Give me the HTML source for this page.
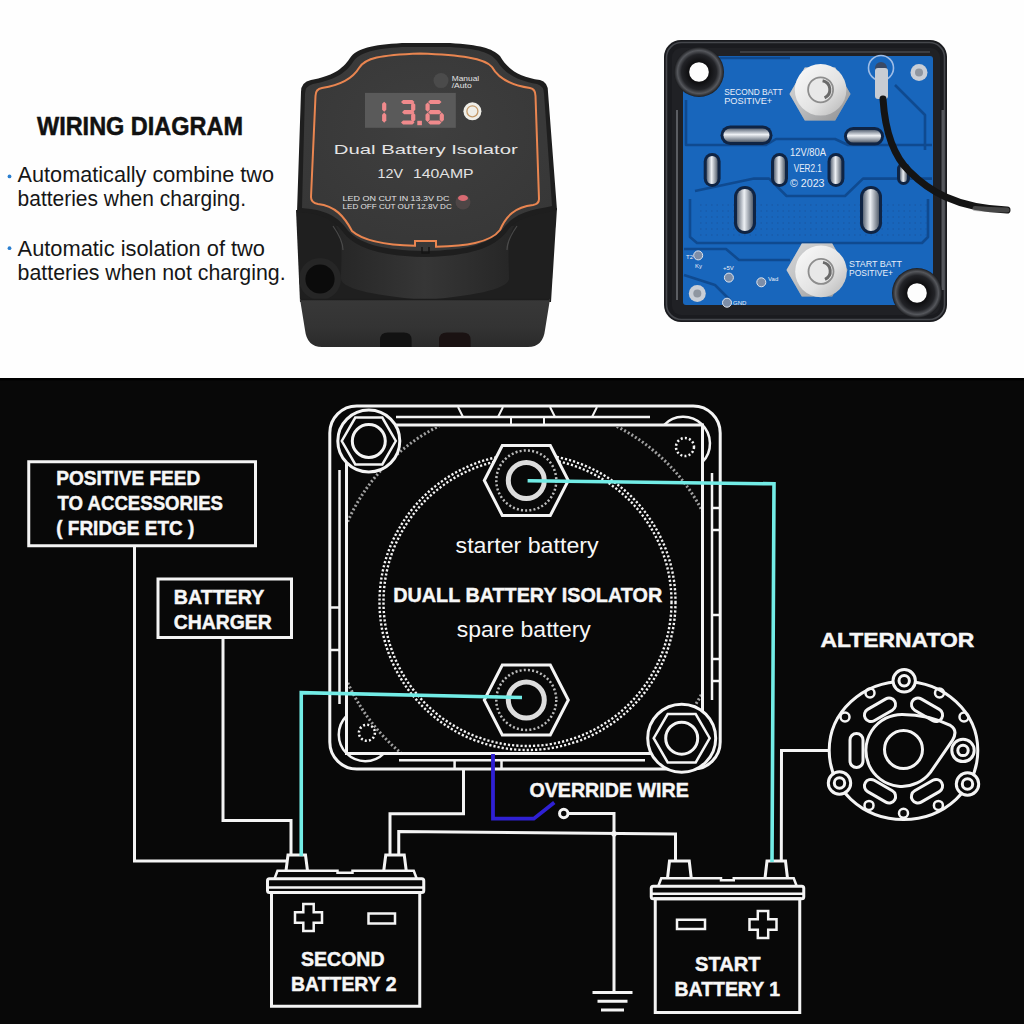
<!DOCTYPE html>
<html><head><meta charset="utf-8">
<style>
html,body{margin:0;padding:0;background:#fff;overflow:hidden;}
svg{display:block;}
text{font-family:"Liberation Sans",sans-serif;}
</style></head>
<body>
<svg width="1024" height="1024" viewBox="0 0 1024 1024">
<defs>
</defs>
<rect x="0" y="0" width="1024" height="378" fill="#fefefe"/>
<rect x="0" y="378" width="1024" height="646" fill="#080808"/><rect x="0" y="378" width="1024" height="2.5" fill="#000"/>

<!-- TOP LEFT TEXT -->
<g id="lefttext">
<text x="37" y="134.5" font-size="25" font-weight="bold" fill="#111" stroke="#111" stroke-width="0.5" textLength="206" lengthAdjust="spacingAndGlyphs">WIRING DIAGRAM</text>
<circle cx="9.5" cy="176.4" r="1.9" fill="#2b7fd0"/>
<circle cx="9.5" cy="248.2" r="1.9" fill="#2b7fd0"/>
<text x="17.6" y="182" font-size="22" fill="#161616" textLength="256.4" lengthAdjust="spacingAndGlyphs">Automatically combine two</text>
<text x="17.6" y="206.4" font-size="22" fill="#161616" textLength="228.4" lengthAdjust="spacingAndGlyphs">batteries when charging.</text>
<text x="17.6" y="255.5" font-size="22" fill="#161616" textLength="247.4" lengthAdjust="spacingAndGlyphs">Automatic isolation of two</text>
<text x="17.6" y="280" font-size="22" fill="#161616" textLength="268" lengthAdjust="spacingAndGlyphs">batteries when not charging.</text>
</g>

<!-- DEVICE -->
<g id="device">
<defs>
<linearGradient id="gBot" x1="0" y1="0" x2="0" y2="1">
<stop offset="0" stop-color="#383838"/><stop offset="0.6" stop-color="#333"/><stop offset="1" stop-color="#2a2a2a"/>
</linearGradient>
<linearGradient id="gMid" x1="0" y1="0" x2="1" y2="0">
<stop offset="0" stop-color="#262626"/><stop offset="0.25" stop-color="#2e2e2e"/><stop offset="0.5" stop-color="#363636"/><stop offset="0.75" stop-color="#2e2e2e"/><stop offset="1" stop-color="#262626"/>
</linearGradient>
<radialGradient id="gTop" cx="0.5" cy="0.4" r="0.7">
<stop offset="0" stop-color="#3f3f3f"/><stop offset="1" stop-color="#363636"/>
</radialGradient>
</defs>
<!-- middle section -->
<path d="M296,210 L557,208 L551,302 L300,302 Z" fill="#1f1f1f"/>
<path d="M336,226 C344,240 341,262 341,279 C343,290 380,296 425,300 C470,296 507,290 509,279 C509,262 506,240 514,226 Z" fill="url(#gMid)"/>
<path d="M333,226 C340,236 343,244 343,250" fill="none" stroke="#5a5a5a" stroke-width="1.2" opacity="0.7"/>
<path d="M517,226 C510,236 507,244 507,250" fill="none" stroke="#5a5a5a" stroke-width="1.2" opacity="0.7"/>
<circle cx="320" cy="279" r="21" fill="#262626"/>
<circle cx="320" cy="279" r="14.6" fill="#0b0b0b"/>
<!-- bottom block -->
<path d="M300,299 L550,299 L545,330 Q543,347 528,347 L322,347 Q307,347 305,330 Z" fill="url(#gBot)"/>
<path d="M301,299.5 L549,299.5" stroke="#1c1c1c" stroke-width="1.5"/>
<path d="M380,347 V340 Q380,332.6 388,332.6 H403.6 Q411.6,332.6 411.6,340 V347 Z" fill="#121212"/>
<path d="M439,347 V340 Q439,332.6 447,332.6 H462.6 Q470.6,332.6 470.6,340 V347 Z" fill="#1a1212"/>
<!-- top face outer -->
<path d="M297,212 L301,92 Q301,82 311,80 C332,76 342,70 350,58 C357,48 372,45 402,43 L450,43 C480,45 492,48 500,56 C508,70 520,77 540,80 Q548,82 548,92 L557,210 C545,214 520,214 508,230 C495,248 470,256 425,257 C380,256 355,248 343,232 C330,214 310,213 297,212 Z" fill="#1e1e1e"/>
<path d="M302,208 L305,94 Q305,86 313,84 C334,80 345,74 353,62 C360,52 374,49 402,47 L450,47 C478,49 490,52 497,61 C505,74 518,81 537,84 Q544,86 544,94 L552,206 C540,209 518,210 505,226 C492,244 468,250 425,251 C382,250 358,244 346,228 C333,210 312,209 302,208 Z" fill="url(#gTop)"/>
<!-- orange line -->
<path d="M315.5,96 Q315.5,89 322,88 C341,85 353,78 359,68 C365,58 380,55 420,53.5 C460,55 485,58 492,67 C498,78 510,85 530,88 Q535.5,89 535.5,96 L539,199 Q539,204 533,205 C515,207 506,216 500,230 C490,243 465,246 436,246.8 L436,241 L415,241 L415,245.8 C385,245 362,240 352,231 C344,216 335,206 318,204 Q311,203 311,197 Z" fill="none" stroke="#e98550" stroke-width="2"/>
<path d="M422,247 V253 H429 V247" fill="none" stroke="#151515" stroke-width="1.5"/>
<!-- LCD -->
<rect x="365" y="92.9" width="90.8" height="34.9" fill="#5a5a5a"/>
<g fill="#f08a8c">
<polygon points="384.2,101.7 386.3,103.8 386.3,109.7 384.2,111.8 382.09999999999997,109.7 382.09999999999997,103.8"/>
<polygon points="384.2,112.6 386.3,114.69999999999999 386.3,120.60000000000001 384.2,122.7 382.09999999999997,120.60000000000001 382.09999999999997,114.69999999999999"/>
<polygon points="401,102 403.1,99.9 412.4,99.9 414.5,102 412.4,104.1 403.1,104.1"/>
<polygon points="402,112.2 404.1,110.10000000000001 412.4,110.10000000000001 414.5,112.2 412.4,114.3 404.1,114.3"/>
<polygon points="401,122.5 403.1,120.4 412.4,120.4 414.5,122.5 412.4,124.6 403.1,124.6"/>
<polygon points="413.2,102.5 415.3,104.6 415.3,109.7 413.2,111.8 411.09999999999997,109.7 411.09999999999997,104.6"/>
<polygon points="413.2,112.6 415.3,114.69999999999999 415.3,119.9 413.2,122 411.09999999999997,119.9 411.09999999999997,114.69999999999999"/>
<rect x="417.3" y="120.8" width="4.6" height="4.4"/>
<polygon points="428,102 430.1,99.9 439.4,99.9 441.5,102 439.4,104.1 430.1,104.1"/>
<polygon points="428,112.2 430.1,110.10000000000001 439.4,110.10000000000001 441.5,112.2 439.4,114.3 430.1,114.3"/>
<polygon points="428,122.5 430.1,120.4 439.4,120.4 441.5,122.5 439.4,124.6 430.1,124.6"/>
<polygon points="427.6,102.5 429.70000000000005,104.6 429.70000000000005,109.7 427.6,111.8 425.5,109.7 425.5,104.6"/>
<polygon points="427.6,112.6 429.70000000000005,114.69999999999999 429.70000000000005,119.9 427.6,122 425.5,119.9 425.5,114.69999999999999"/>
<polygon points="441.8,112.6 443.90000000000003,114.69999999999999 443.90000000000003,119.9 441.8,122 439.7,119.9 439.7,114.69999999999999"/>
</g>
<circle cx="472.4" cy="111.3" r="9" fill="#efeee8"/>
<circle cx="472.4" cy="111.3" r="5.5" fill="none" stroke="#c49a6a" stroke-width="1.3"/>
<circle cx="441" cy="80.6" r="7.5" fill="#4b4b4b"/>
<g fill="#e4e4e4">
<text x="451.7" y="81.3" font-size="7" textLength="27.5" lengthAdjust="spacingAndGlyphs">Manual</text>
<text x="451.7" y="88.2" font-size="7" textLength="20" lengthAdjust="spacingAndGlyphs">/Auto</text>
<text x="333.8" y="154.4" font-size="13" textLength="184" lengthAdjust="spacingAndGlyphs">Dual Battery Isolator</text>
<text x="377.5" y="178" font-size="12.4" textLength="25.5" lengthAdjust="spacingAndGlyphs">12V</text><text x="413" y="178" font-size="12.4" textLength="60.6" lengthAdjust="spacingAndGlyphs">140AMP</text>
<text x="342.5" y="201.3" font-size="6.8" textLength="107" lengthAdjust="spacingAndGlyphs">LED ON CUT IN 13.3V DC</text>
<text x="342.5" y="209" font-size="6.8" textLength="109.3" lengthAdjust="spacingAndGlyphs">LED OFF CUT OUT 12.8V DC</text>
</g>
<circle cx="463" cy="202" r="7.5" fill="#4e4646"/>
<ellipse cx="463" cy="198" rx="5" ry="3" fill="#d86a72"/>
</g>

<!-- PCB -->
<g id="pcb">
<defs>
<linearGradient id="gSil" x1="0" y1="0" x2="1" y2="1">
<stop offset="0" stop-color="#f4f4f4"/><stop offset="0.45" stop-color="#cfcfcf"/><stop offset="1" stop-color="#7c7c7c"/>
</linearGradient>
<radialGradient id="gBoss" cx="0.5" cy="0.5" r="0.5">
<stop offset="0.38" stop-color="#0c0c0e"/><stop offset="0.7" stop-color="#222327"/><stop offset="0.86" stop-color="#55575c"/><stop offset="1" stop-color="#1a1b1e"/>
</radialGradient>
<linearGradient id="gSilTop" x1="0" y1="0" x2="1" y2="1">
<stop offset="0" stop-color="#fbfbfb"/><stop offset="0.6" stop-color="#e2e2e2"/><stop offset="1" stop-color="#b4b4b4"/>
</linearGradient>
<linearGradient id="gSlotH" x1="0" y1="0" x2="0" y2="1">
<stop offset="0" stop-color="#5d6878"/><stop offset="0.45" stop-color="#eef1f5"/><stop offset="1" stop-color="#56606e"/>
</linearGradient>
<linearGradient id="gSlotV" x1="0" y1="0" x2="1" y2="0">
<stop offset="0" stop-color="#5d6878"/><stop offset="0.45" stop-color="#eef1f5"/><stop offset="1" stop-color="#56606e"/>
</linearGradient>
</defs>
<rect x="664" y="40" width="283" height="282" rx="17" fill="#1a1b1f"/>
<rect x="666.5" y="42.5" width="278" height="277" rx="15" fill="none" stroke="#45474c" stroke-width="1.6"/>
<rect x="672" y="48" width="268" height="267" rx="9" fill="#202125"/>
<path d="M677,110 V300" stroke="#5b5d62" stroke-width="2" fill="none"/>
<path d="M740,52 H930" stroke="#3c3e43" stroke-width="2" fill="none"/>
<path d="M943,110 V290" stroke="#55575c" stroke-width="3" fill="none"/>
<rect x="683" y="56" width="250" height="249" rx="3" fill="#1866bc"/>
<g fill="none" stroke="#0f4a90" stroke-width="2.6" stroke-linejoin="round">
<path d="M686,100 V145 H766 L776,139 H835 L848,145 H932"/>
<path d="M695,191 L754,178.6 H769 L786.6,196 H845 L863,178.6 H932"/>
<path d="M690,199 V237 L697,243 H922 L928,237 V199"/>
<path d="M684,249 H726 L739,260 H790"/>
<path d="M684,275 L715,285 L730,300"/>
<path d="M720,58 H790"/>
<path d="M895,85 L925,115 V150"/>
</g>
<g fill="none" stroke="#1856a0" stroke-width="1.2" stroke-dasharray="1.5 4">
<path d="M700,205 H930"/>
<path d="M700,211 H930"/>
<path d="M700,217 H930"/>
<path d="M700,223 H930"/>
<path d="M700,229 H930"/>
<path d="M700,235 H930"/>
</g>
<circle cx="699" cy="72" r="25" fill="url(#gBoss)"/>
<circle cx="699" cy="72" r="9.8" fill="#fdfdfd"/>
<circle cx="917" cy="293" r="25" fill="url(#gBoss)"/>
<circle cx="917" cy="293" r="9.8" fill="#fdfdfd"/>
<circle cx="919" cy="72.6" r="8.5" fill="#c9ced6"/>
<circle cx="919" cy="72.6" r="4" fill="#8f96a0"/>
<circle cx="697.3" cy="293.4" r="8.5" fill="#c9ced6"/>
<circle cx="697.3" cy="293.4" r="4" fill="#8f96a0"/>
<rect x="720.5" y="125.5" width="52.0" height="19.5" rx="9.8" fill="#0f2444"/>
<rect x="723.5" y="128.5" width="46.0" height="13.5" rx="6.8" fill="url(#gSlotH)"/>
<rect x="844.0" y="127.0" width="40.0" height="18.6" rx="9.3" fill="#0f2444"/>
<rect x="847.0" y="130.0" width="34.0" height="12.6" rx="6.3" fill="url(#gSlotH)"/>
<rect x="703.7" y="153.0" width="16.9" height="34.0" rx="8.4" fill="#0f2444"/>
<rect x="706.7" y="156.0" width="10.9" height="28.0" rx="5.4" fill="url(#gSlotV)"/>
<rect x="771.0" y="153.0" width="17.0" height="34.0" rx="8.5" fill="#0f2444"/>
<rect x="774.0" y="156.0" width="11.0" height="28.0" rx="5.5" fill="url(#gSlotV)"/>
<rect x="827.5" y="153.0" width="16.9" height="34.0" rx="8.4" fill="#0f2444"/>
<rect x="830.5" y="156.0" width="10.9" height="28.0" rx="5.4" fill="url(#gSlotV)"/>
<rect x="897.0" y="162.5" width="13.0" height="22.5" rx="6.5" fill="#0f2444"/>
<rect x="900.0" y="165.5" width="7.0" height="16.5" rx="3.5" fill="url(#gSlotV)"/>
<rect x="734.0" y="186.0" width="22.0" height="48.0" rx="11.0" fill="#0f2444"/>
<rect x="737.0" y="189.0" width="16.0" height="42.0" rx="8.0" fill="url(#gSlotV)"/>
<rect x="860.0" y="186.0" width="22.0" height="48.0" rx="11.0" fill="#0f2444"/>
<rect x="863.0" y="189.0" width="16.0" height="42.0" rx="8.0" fill="url(#gSlotV)"/>
<polygon points="850.5,94.0 835.2,120.4 804.8,120.4 789.5,94.0 804.8,67.6 835.2,67.6" fill="#a9abaf"/>
<polygon points="850.5,94.0 835.2,120.4 804.8,120.4 789.5,94.0 804.8,67.6 835.2,67.6" fill="url(#gSil)" opacity="0.6"/>
<circle cx="820.6" cy="89.8" r="25.8" fill="url(#gSilTop)"/>
<circle cx="820.6" cy="89.8" r="12.5" fill="#e8e8e8" stroke="#8d8d8d" stroke-width="1.8"/>
<path d="M822.6,80.8 A9,9 0 0 1 824.6,97.8" fill="none" stroke="#6a6a6a" stroke-width="3"/>
<polygon points="847.5,270.0 832.2,296.4 801.8,296.4 786.5,270.0 801.8,243.6 832.2,243.6" fill="#a9abaf"/>
<polygon points="847.5,270.0 832.2,296.4 801.8,296.4 786.5,270.0 801.8,243.6 832.2,243.6" fill="url(#gSil)" opacity="0.6"/>
<circle cx="821" cy="271.4" r="25.8" fill="url(#gSilTop)"/>
<circle cx="821" cy="271.4" r="12.5" fill="#e8e8e8" stroke="#8d8d8d" stroke-width="1.8"/>
<path d="M823,262.4 A9,9 0 0 1 825,279.4" fill="none" stroke="#6a6a6a" stroke-width="3"/>
<circle cx="881" cy="68" r="12.5" fill="none" stroke="#9fbde6" stroke-width="1.6"/>
<circle cx="881" cy="68" r="6" fill="#3a4a66"/>
<rect x="875" y="68" width="13" height="31" rx="3" fill="#c8ccd3"/>
<path d="M883,99 C885,130 893,156 910,172 C928,190 955,208 1007,210" fill="none" stroke="#141414" stroke-width="7" stroke-linecap="round"/>
<path d="M975,208.5 C990,210 1000,210 1007,210" fill="none" stroke="#777" stroke-width="5" stroke-linecap="round" opacity="0.5"/>
<g fill="#e8eef8" font-size="9.6">
<text x="724.2" y="95" textLength="58.5" lengthAdjust="spacingAndGlyphs">SECOND BATT</text>
<text x="724.2" y="104.2" textLength="48" lengthAdjust="spacingAndGlyphs">POSITIVE+</text>
<text x="790" y="156" font-size="10" textLength="36" lengthAdjust="spacingAndGlyphs">12V/80A</text>
<text x="793.7" y="172" font-size="10" textLength="28.2" lengthAdjust="spacingAndGlyphs">VER2.1</text>
<text x="790" y="187" font-size="10" textLength="34.5" lengthAdjust="spacingAndGlyphs">© 2023</text>
<text x="849" y="266.6" textLength="53" lengthAdjust="spacingAndGlyphs">START BATT</text>
<text x="849" y="276" textLength="44" lengthAdjust="spacingAndGlyphs">POSITIVE+</text>
<text x="686" y="259" font-size="6">T2</text>
<text x="695" y="268" font-size="6">Ky</text>
<text x="723" y="270" font-size="6">+5V</text>
<text x="768" y="281" font-size="6">Vad</text>
<text x="733" y="305" font-size="6">GND</text>
</g>
<circle cx="698.2" cy="255.4" r="4.5" fill="#7d8ea8" stroke="#dfe6f0" stroke-width="1"/>
<circle cx="728.9" cy="277.6" r="4.5" fill="#7d8ea8" stroke="#dfe6f0" stroke-width="1"/>
<circle cx="761.3" cy="282.3" r="4.5" fill="#7d8ea8" stroke="#dfe6f0" stroke-width="1"/>
<circle cx="727" cy="302.7" r="4.5" fill="#7d8ea8" stroke="#dfe6f0" stroke-width="1"/>
</g>

<!-- DIAGRAM -->
<g id="diagram" fill="none" stroke="#f4f4f4" stroke-width="3" stroke-linejoin="miter">
<rect x="28.75" y="461.75" width="226.75" height="84" />
<rect x="158" y="579" width="133.5" height="58.5" />
<polyline points="134.5,545.75 134.5,861 286,861" />
<polyline points="223,637.5 223,820.5 291,820.5 291,856" />
<polyline points="390,856 390,813.75 463.5,813.75 463.5,769" />
<polyline points="398.75,856 398.75,831.5 675.5,834 675.5,862" />
<polyline points="568,813.5 614,813.5 614,992.5" />
<circle cx="563.75" cy="813.5" r="4.2" />
<circle cx="614" cy="833.7" r="2.8" fill="#f2f2f2" stroke="none"/>
<line x1="592.5" y1="992.5" x2="632.5" y2="992.5" />
<line x1="597.5" y1="1001.25" x2="627.5" y2="1001.25" />
<line x1="601" y1="1010" x2="624" y2="1010" />
<polyline points="829,750.4 781.5,750.4 781.3,862" />
<rect x="329.8" y="406" width="390.4" height="363" rx="27" />
<clipPath id="cpFrame"><rect x="348" y="427" width="353" height="325"/></clipPath>
<circle cx="527.5" cy="602" r="197" stroke-width="3" stroke-dasharray="2 2.2" stroke="#a0a0a0" clip-path="url(#cpFrame)"/>
<path d="M346.5,425 H702.5 V753.4 H346.5 Z" />
<path d="M339.5,470 V704 M712,473 V700 M712,508 H720 M712,530 H720 M712,615 H720 M712,659 H720 M712,681 H720 M331,607.5 H339.5 M331,650 H339.5 M396,417 H650 M399,760.3 H645 M454.6,760.3 V769 M501.5,760.3 V769" stroke-width="2.5"/>
<path d="M458,407 L463,417 M498,417 L503,407 M550,407 L555,417 M592,417 L597,407 M511,417 V426 M544,417 V426" stroke-width="2"/>
<path d="M664,425 A26,26 0 0 1 702.5,462" stroke-width="2.5"/>
<path d="M346.5,716 A22,22 0 0 0 384,753.4" stroke-width="2.5"/>
<circle cx="368.8" cy="441" r="31" fill="#080808"/>
<polygon points="395.8,441.0 382.3,464.4 355.3,464.4 341.8,441.0 355.3,417.6 382.3,417.6" stroke-width="2.5"/>
<circle cx="368.8" cy="441" r="16.5" />
<circle cx="681.7" cy="738.2" r="34" fill="#080808"/>
<polygon points="709.7,738.2 695.7,762.4 667.7,762.4 653.7,738.2 667.7,714.0 695.7,714.0" stroke-width="2.5"/>
<circle cx="681.7" cy="738.2" r="16" />
<circle cx="366.9" cy="732.8" r="8" stroke-width="2.5" stroke-dasharray="2 2.2"/>
<circle cx="685" cy="447" r="9" stroke-width="2.5" stroke-dasharray="2 2.2"/>
<circle cx="527.5" cy="602" r="144" stroke-width="2.4" stroke-dasharray="2.2 2"/>
<circle cx="527.5" cy="602" r="148" stroke-width="2.4" stroke-dasharray="2.2 2" />
<polygon points="484.3,480.5 502.3,445.5 550.3,445.5 568.3,480.5 550.3,515.5 502.3,515.5" fill="#080808" />
<circle cx="526.3" cy="480.5" r="30" stroke-width="2.5" stroke-dasharray="2 2.2" stroke="#bbb"/>
<circle cx="526.3" cy="480.5" r="18" stroke-width="5" stroke="#ddd"/>
<polygon points="484.3,700.0 502.3,665.0 550.3,665.0 568.3,700.0 550.3,735.0 502.3,735.0" fill="#080808" />
<circle cx="526.3" cy="700" r="30" stroke-width="2.5" stroke-dasharray="2 2.2" stroke="#bbb"/>
<circle cx="526.3" cy="700" r="18" stroke-width="5" stroke="#ddd"/>
<path d="M286,870.75 L288,855 H305.5 L307.5,870.75" />
<path d="M383.75,870.75 L385.75,855 H404.25 L406.25,870.75" />
<path d="M274.5,878.75 L277.5,870.75 H337.5 V872.75 H352.5 V870.75 H413.75 L416.75,878.75" stroke-width="2.5"/>
<rect x="267.5" y="878.75" width="156.25" height="13.75" rx="2"/>
<line x1="267.5" y1="887.5" x2="423.75" y2="887.5" stroke-width="2.5"/>
<rect x="271.5" y="892.5" width="148.25" height="113.75" />
<path d="M303.3,904.0 H313.7 V912.3 H322.0 V922.7 H313.7 V931.0 H303.3 V922.7 H295.0 V912.3 H303.3 Z" stroke-width="2.5"/>
<rect x="368.5" y="913.5" width="26.5" height="10" stroke-width="2.5"/>
<path d="M667.5,878.25 L669.5,861 H689.25 L691.25,878.25" />
<path d="M765,878.25 L767,861 H785.5 L787.5,878.25" />
<path d="M658.25,886.25 L661.25,878.25 H721 V880.25 H733.75 V878.25 H793.75 L796.75,886.25" stroke-width="2.5"/>
<rect x="651.25" y="886.25" width="152.5" height="12.5" rx="2"/>
<line x1="651.25" y1="893.75" x2="803.75" y2="893.75" stroke-width="2.5"/>
<rect x="655.25" y="898.75" width="144.5" height="113.75" />
<path d="M757.8,911.0 H768.2 V919.3 H776.5 V929.7 H768.2 V938.0 H757.8 V929.7 H749.5 V919.3 H757.8 Z" stroke-width="2.5"/>
<rect x="677" y="919.75" width="28" height="9.25" stroke-width="2.5"/>
<polyline points="301.25,856 301.25,692.7 522,697.5" stroke="#72ece6" stroke-width="3.6"/>
<polyline points="527.6,480.75 774,483.8 772,862" stroke="#72ece6" stroke-width="3.6"/>
<polyline points="493,754 493,818.7 533.8,818.7 554.3,802.6" stroke="#2f20d4" stroke-width="3.8"/>
<ellipse cx="903.5" cy="750.5" rx="74.3" ry="69" />
<circle cx="870" cy="693" r="4.5" stroke-width="2.5"/>
<circle cx="939.5" cy="693" r="4.5" stroke-width="2.5"/>
<circle cx="845" cy="717" r="4.5" stroke-width="2.5"/>
<circle cx="964" cy="717" r="4.5" stroke-width="2.5"/>
<circle cx="869" cy="805.4" r="4.5" stroke-width="2.5"/>
<circle cx="938.4" cy="805.4" r="4.5" stroke-width="2.5"/>
<circle cx="903.5" cy="813.3" r="4.5" stroke-width="2.5"/>
<circle cx="904.2" cy="680.8" r="11.2" fill="#080808"/>
<circle cx="904.2" cy="680.8" r="5.2" />
<circle cx="839.5" cy="783" r="11.2" fill="#080808"/>
<circle cx="839.5" cy="783" r="5.2" />
<circle cx="967.5" cy="784" r="11.2" fill="#080808"/>
<circle cx="967.5" cy="784" r="5.2" />
<circle cx="963" cy="750.4" r="11.2" fill="#080808"/>
<circle cx="963" cy="750.4" r="5.2" />
<path d="M902.4,714.4 C922.4,714.4 940.4,720.4 950.4,725.4 Q958.4,730.4 952.4,740.4 L930.4,772.4 A36,36 0 1 1 902.4,714.4 Z" />
<circle cx="903.5" cy="749.5" r="19" />
<rect x="863.0" y="703.3" width="34" height="13" rx="6.5" transform="rotate(-30 880.0 709.8)" />
<rect x="910.0" y="703.3" width="34" height="13" rx="6.5" transform="rotate(30 927.0 709.8)" />
<rect x="839.5" y="744.0" width="34" height="13" rx="6.5" transform="rotate(270 856.5 750.5)" />
<rect x="863.0" y="784.7" width="34" height="13" rx="6.5" transform="rotate(210 880.0 791.2)" />
<rect x="910.0" y="784.7" width="34" height="13" rx="6.5" transform="rotate(150 927.0 791.2)" />
</g>

<!-- DIAGRAM TEXT -->
<g id="dtext" fill="#f7f7f7" stroke="#f7f7f7" stroke-width="0.45" font-weight="bold" font-size="19.5">
<text x="56.25" y="485" textLength="144" lengthAdjust="spacingAndGlyphs">POSITIVE FEED</text>
<text x="57.5" y="510" textLength="165.5" lengthAdjust="spacingAndGlyphs">TO ACCESSORIES</text>
<text x="56.25" y="535" textLength="138" lengthAdjust="spacingAndGlyphs">( FRIDGE ETC )</text>
<text x="173.75" y="603.75" textLength="90.5" lengthAdjust="spacingAndGlyphs">BATTERY</text>
<text x="173.75" y="628.75" textLength="98" lengthAdjust="spacingAndGlyphs">CHARGER</text>
<text x="393.2" y="601.5" font-size="21" textLength="269" lengthAdjust="spacingAndGlyphs">DUALL BATTERY ISOLATOR</text>
<text x="529.4" y="796.7" textLength="159.5" lengthAdjust="spacingAndGlyphs">OVERRIDE WIRE</text>
<text x="820.4" y="647" font-size="21" textLength="154" lengthAdjust="spacingAndGlyphs">ALTERNATOR</text>
<text x="301" y="966" textLength="83.5" lengthAdjust="spacingAndGlyphs">SECOND</text>
<text x="291" y="990.5" textLength="105.5" lengthAdjust="spacingAndGlyphs">BATTERY 2</text>
<text x="695" y="971" textLength="65.5" lengthAdjust="spacingAndGlyphs">START</text>
<text x="674.5" y="995.5" textLength="105.5" lengthAdjust="spacingAndGlyphs">BATTERY 1</text>
<text x="455.6" y="552.8" font-weight="normal" stroke-width="0" font-size="22" textLength="143" lengthAdjust="spacingAndGlyphs">starter battery</text>
<text x="456.8" y="637.2" font-weight="normal" stroke-width="0" font-size="22" textLength="134" lengthAdjust="spacingAndGlyphs">spare battery</text>
</g>
</svg>
</body></html>
